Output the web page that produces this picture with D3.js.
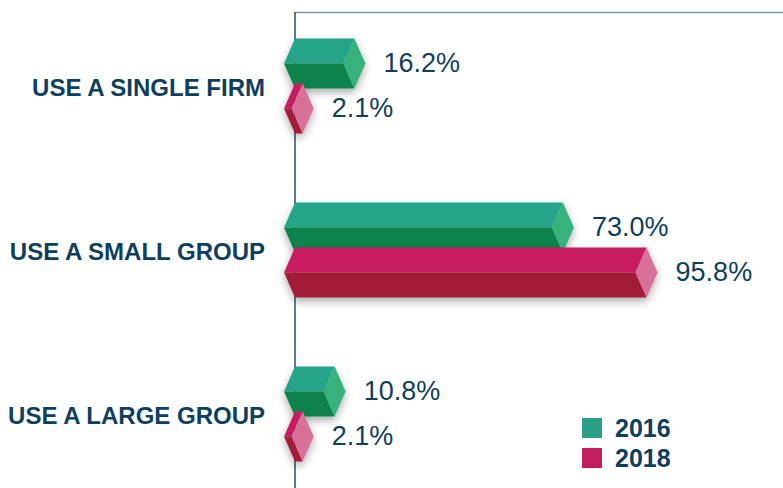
<!DOCTYPE html>
<html>
<head>
<meta charset="utf-8">
<script src="https://cdn.jsdelivr.net/npm/d3@7"></script>
<style>
  html, body { margin: 0; padding: 0; background: #ffffff; }
  svg { display: block; font-family: "Liberation Sans", Arial, sans-serif; }
</style>
</head>
<body>
<svg id="chart" width="783" height="488"></svg>
<script>
// Share of respondents by sourcing approach
const categories = ["USE A SINGLE FIRM", "USE A SMALL GROUP", "USE A LARGE GROUP"];
const years = ["2016", "2018"];
const values2016 = [16.2, 73.0, 10.8];
const values2018 = [2.1, 95.8, 2.1];
const valueLabels2016 = ["16.2%", "73.0%", "10.8%"];
const valueLabels2018 = ["2.1%", "95.8%", "2.1%"];

const palette = {
  "2016": { top: "#27a489", bottom: "#08834b", cap: "#37b27d", key: "#2a9d84" },
  "2018": { top: "#c81d60", bottom: "#a21b38", cap: "#d8719a", key: "#c0215e" }
};
const ink = "#0e3f5e";

const svg = d3.select("#chart");
const W = 783, H = 488;
const axisX = 295;

const x = d3.scaleLinear().domain([0, 100]).range([axisX, axisX + 367]);
const y = d3.scaleBand().domain(categories).range([4, 496]);
const yInner = d3.scaleBand().domain(years).range([-45, 45]);

const rows = [];
categories.forEach((c, i) => {
  rows.push({ cat: c, year: "2016", value: values2016[i], label: valueLabels2016[i] });
  rows.push({ cat: c, year: "2018", value: values2018[i], label: valueLabels2018[i] });
});

// soft shadow under the prisms
const defs = svg.append("defs");
const f = defs.append("filter").attr("id", "shadow")
  .attr("x", "-30%").attr("y", "-40%").attr("width", "160%").attr("height", "190%");
f.append("feDropShadow").attr("dx", 0).attr("dy", 4).attr("stdDeviation", 4)
  .attr("flood-color", "#000").attr("flood-opacity", 0.32);

// frame: top rule and baseline axis
svg.append("line").attr("x1", axisX).attr("x2", W).attr("y1", 12.5).attr("y2", 12.5)
  .attr("stroke", "#7b9bab").attr("stroke-width", 1.6);
svg.append("line").attr("x1", axisX).attr("x2", axisX).attr("y1", 12).attr("y2", H)
  .attr("stroke", "#355a72").attr("stroke-width", 1.6);

const h = 50, d = 11;
const yc = r => y(r.cat) + y.bandwidth() / 2 + yInner(r.year) + yInner.bandwidth() / 2;
const pts = a => a.map(p => p.join(",")).join(" ");

const bars = svg.append("g").selectAll("g.bar").data(rows).join("g")
  .attr("class", "bar")
  .attr("filter", "url(#shadow)");

bars.each(function (r) {
  const g = d3.select(this);
  const x0 = x(0), x1 = x(r.value), c = yc(r);
  const t = c - h / 2, b = c + h / 2;
  const col = palette[r.year];
  g.append("polygon").attr("points", pts([[x0 - d, c], [x0, t], [x1, t], [x1 - d, c]])).attr("fill", col.top);
  g.append("polygon").attr("points", pts([[x0 - d, c], [x1 - d, c], [x1, b], [x0, b]])).attr("fill", col.bottom);
  g.append("polygon").attr("points", pts([[x1, t], [x1 + d, c], [x1, b], [x1 - d, c]])).attr("fill", col.cap);
});

// value labels
svg.append("g").selectAll("text").data(rows).join("text")
  .attr("x", r => x(r.value) + d + 18)
  .attr("y", r => yc(r) - 1)
  .attr("dominant-baseline", "central")
  .attr("font-size", 27)
  .attr("fill", ink)
  .text(r => r.label);

// category labels
svg.append("g").selectAll("text").data(categories).join("text")
  .attr("x", 265)
  .attr("y", c => y(c) + y.bandwidth() / 2 + 1)
  .attr("text-anchor", "end")
  .attr("dominant-baseline", "central")
  .attr("font-size", 24)
  .attr("font-weight", "bold")
  .attr("fill", ink)
  .text(c => c);

// legend
const legend = svg.append("g").attr("transform", "translate(582,418)");
const li = legend.selectAll("g").data(years).join("g")
  .attr("transform", (k, i) => `translate(0,${i * 30})`);
li.append("rect").attr("width", 20).attr("height", 20).attr("fill", k => palette[k].key);
li.append("text").attr("x", 33).attr("y", 10).attr("dominant-baseline", "central")
  .attr("font-size", 25).attr("font-weight", "bold").attr("fill", ink).text(k => k);
</script>
</body>
</html>
